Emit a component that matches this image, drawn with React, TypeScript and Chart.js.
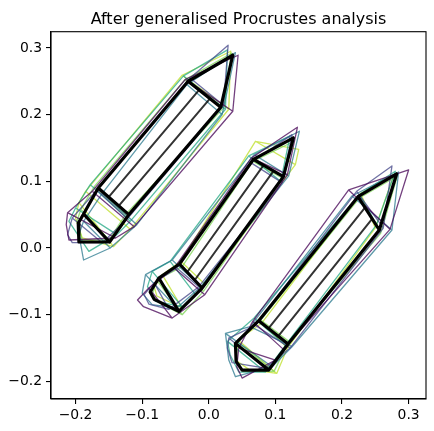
import React, { useEffect, useRef } from "react";
import { Chart, registerables } from "chart.js";

Chart.register(...registerables);

// Landmark order per pencil: tip, shoulder L, shoulder R, ferrule L, ferrule R, eraser L, eraser C1, eraser C2, eraser R
const MEAN_P1 = [[0.036, 0.289], [-0.031, 0.250], [0.018, 0.211], [-0.166, 0.090], [-0.120, 0.050], [-0.188, 0.051], [-0.196, 0.037], [-0.195, 0.009], [-0.149, 0.009]];
const MEAN_P2 = [[0.127, 0.165], [0.067, 0.133], [0.112, 0.107], [-0.044, -0.024], [-0.010, -0.060], [-0.075, -0.045], [-0.088, -0.066], [-0.082, -0.077], [-0.045, -0.095]];
const MEAN_P3 = [[0.282, 0.111], [0.224, 0.077], [0.256, 0.027], [0.075, -0.109], [0.119, -0.144], [0.040, -0.143], [0.041, -0.170], [0.050, -0.183], [0.090, -0.183]];

// inner facet lines of the mean shape
const MEAN_INNER = [
  [[-0.0145, 0.2371], [-0.1504, 0.0764]], [[0.0017, 0.2239], [-0.1352, 0.0633]],
  [[0.0823, 0.1243], [-0.0323, -0.0360]], [[0.0973, 0.1156], [-0.0210, -0.0480]],
  [[0.2345, 0.0605], [0.0894, -0.1209]], [[0.2452, 0.0437], [0.1040, -0.1324]],
];

const SHAPE_0 = [
  [[0.044, 0.289], [-0.035, 0.253], [0.036, 0.205], [-0.175, 0.085], [-0.112, 0.032], [-0.212, 0.053], [-0.214, 0.035], [-0.210, 0.012], [-0.140, 0.015]],
  [[0.133, 0.181], [0.064, 0.135], [0.118, 0.110], [-0.052, -0.030], [-0.006, -0.070], [-0.090, -0.060], [-0.107, -0.078], [-0.098, -0.088], [-0.055, -0.105]],
  [[0.300, 0.117], [0.210, 0.087], [0.272, 0.028], [0.066, -0.110], [0.112, -0.152], [0.045, -0.150], [0.042, -0.178], [0.050, -0.195], [0.100, -0.168]],
];
const SHAPE_1 = [
  [[0.029, 0.304], [-0.028, 0.255], [0.022, 0.214], [-0.168, 0.087], [-0.122, 0.044], [-0.205, 0.045], [-0.212, 0.020], [-0.205, 0.008], [-0.160, 0.008]],
  [[0.125, 0.170], [0.063, 0.128], [0.110, 0.098], [-0.048, -0.030], [-0.015, -0.058], [-0.082, -0.052], [-0.097, -0.070], [-0.090, -0.084], [-0.060, -0.092]],
  [[0.275, 0.123], [0.222, 0.085], [0.262, 0.030], [0.070, -0.116], [0.122, -0.150], [0.030, -0.135], [0.028, -0.150], [0.035, -0.172], [0.085, -0.180]],
];
const SHAPE_2 = [
  [[0.040, 0.293], [-0.033, 0.245], [0.020, 0.200], [-0.160, 0.082], [-0.108, 0.035], [-0.188, 0.040], [-0.195, 0.020], [-0.188, -0.018], [-0.148, 0.000]],
  [[0.136, 0.175], [0.068, 0.140], [0.120, 0.108], [-0.055, -0.018], [-0.012, -0.058], [-0.095, -0.040], [-0.100, -0.068], [-0.085, -0.085], [-0.048, -0.090]],
  [[0.285, 0.114], [0.215, 0.078], [0.275, 0.027], [0.062, -0.118], [0.125, -0.148], [0.025, -0.128], [0.030, -0.168], [0.040, -0.193], [0.095, -0.178]],
];
const SHAPE_3 = [
  [[0.028, 0.297], [-0.038, 0.258], [0.025, 0.208], [-0.178, 0.095], [-0.118, 0.040], [-0.200, 0.060], [-0.210, 0.040], [-0.180, -0.005], [-0.138, 0.020]],
  [[0.122, 0.168], [0.060, 0.138], [0.108, 0.100], [-0.058, -0.020], [-0.020, -0.070], [-0.085, -0.035], [-0.092, -0.058], [-0.080, -0.080], [-0.040, -0.088]],
  [[0.280, 0.115], [0.226, 0.080], [0.252, 0.035], [0.068, -0.105], [0.115, -0.146], [0.028, -0.140], [0.032, -0.160], [0.045, -0.186], [0.085, -0.186]],
];
const SHAPE_4 = [
  [[0.034, 0.292], [-0.036, 0.252], [0.022, 0.210], [-0.172, 0.092], [-0.125, 0.050], [-0.192, 0.058], [-0.198, 0.040], [-0.190, 0.012], [-0.150, 0.012]],
  [[0.128, 0.160], [0.066, 0.130], [0.110, 0.105], [-0.040, -0.028], [-0.008, -0.065], [-0.078, -0.048], [-0.085, -0.070], [-0.075, -0.082], [-0.040, -0.100]],
  [[0.283, 0.108], [0.226, 0.075], [0.258, 0.022], [0.078, -0.108], [0.120, -0.140], [0.042, -0.140], [0.042, -0.172], [0.052, -0.185], [0.098, -0.185]],
];
const SHAPE_5 = [
  [[0.033, 0.295], [-0.040, 0.259], [0.030, 0.208], [-0.185, 0.085], [-0.118, 0.028], [-0.195, 0.068], [-0.200, 0.045], [-0.190, 0.015], [-0.143, 0.002]],
  [[0.135, 0.148], [0.070, 0.160], [0.130, 0.125], [-0.042, -0.020], [-0.005, -0.055], [-0.070, -0.040], [-0.082, -0.058], [-0.078, -0.072], [-0.040, -0.090]],
  [[0.278, 0.110], [0.228, 0.082], [0.250, 0.030], [0.080, -0.112], [0.118, -0.150], [0.044, -0.138], [0.040, -0.168], [0.060, -0.182], [0.102, -0.188]],
];

const SHAPES = [SHAPE_0, SHAPE_1, SHAPE_2, SHAPE_3, SHAPE_4, SHAPE_5];
const SHAPE_COLORS = ["#440154", "#414487", "#2a788e", "#22a884", "#7ad151", "#bddf26"];

const X_TICKS = [-0.2, -0.1, 0.0, 0.1, 0.2, 0.3];
const Y_TICKS = [-0.2, -0.1, 0.0, 0.1, 0.2, 0.3];
const X_RANGE = [-0.2369, 0.3261];
const Y_RANGE = [-0.2264, 0.3243];
const TITLE = "After generalised Procrustes analysis";

// drawing structure (landmark index order)
const OUTLINE = [0, 1, 3, 5, 6, 7, 8, 4, 2, 0];
const CROSS = [[1, 2], [3, 4], [5, 8]];

type Pt = { x: number; y: number | null };

function pencilPath(lm: number[][]): Pt[] {
  const out: Pt[] = [];
  OUTLINE.forEach((i) => out.push({ x: lm[i][0], y: lm[i][1] }));
  CROSS.forEach(([a, b]) => {
    out.push({ x: lm[a][0], y: null });
    out.push({ x: lm[a][0], y: lm[a][1] });
    out.push({ x: lm[b][0], y: lm[b][1] });
  });
  return out;
}

function shapePath(pencils: number[][][]): Pt[] {
  const out: Pt[] = [];
  pencils.forEach((p, k) => {
    if (k > 0) out.push({ x: p[0][0], y: null });
    out.push(...pencilPath(p));
  });
  return out;
}

function innerPath(lines: number[][][]): Pt[] {
  const out: Pt[] = [];
  lines.forEach((l, k) => {
    if (k > 0) out.push({ x: l[0][0], y: null });
    out.push({ x: l[0][0], y: l[0][1] });
    out.push({ x: l[1][0], y: l[1][1] });
  });
  return out;
}

function hexA(hex: string, a: number) {
  const r = parseInt(hex.slice(1, 3), 16), g = parseInt(hex.slice(3, 5), 16), b = parseInt(hex.slice(5, 7), 16);
  return `rgba(${r},${g},${b},${a})`;
}

const fmt = (v: number) => (v < -1e-9 ? "\u2212" : "") + Math.abs(v).toFixed(1);

export default function App() {
  const ref = useRef<HTMLCanvasElement | null>(null);
  useEffect(() => {
    document.body.style.margin = "0";
    const ctx = ref.current!.getContext("2d")!;
    const common = { showLine: true, pointRadius: 0, fill: false, tension: 0, spanGaps: false, borderJoinStyle: "round" as const, borderCapStyle: "round" as const };
    const datasets: any[] = [
      { ...common, data: shapePath([MEAN_P1, MEAN_P2, MEAN_P3]), borderColor: "#000", borderWidth: 3.2, order: 0 },
      { ...common, data: innerPath(MEAN_INNER), borderColor: "rgba(0,0,0,0.8)", borderWidth: 2, order: 1 },
      ...SHAPES.map((s, i) => ({ ...common, data: shapePath(s), borderColor: hexA(SHAPE_COLORS[i], 0.75), borderWidth: 1.3, order: 2 + i })),
    ];
    const frame = {
      id: "frame",
      afterDatasetsDraw(chart: any) {
        const { left, right, top, bottom } = chart.chartArea;
        const c = chart.ctx;
        c.save();
        c.strokeStyle = "#000";
        c.lineWidth = 1.1;
        c.strokeRect(left, top, right - left, bottom - top);
        c.restore();
      },
      afterDraw(chart: any) {
        const { left, right } = chart.chartArea;
        const c = chart.ctx;
        c.save();
        c.fillStyle = "#000";
        c.font = "16px 'DejaVu Sans'";
        c.textAlign = "center";
        c.textBaseline = "alphabetic";
        c.fillText(TITLE, (left + right) / 2, 23.5);
        c.restore();
      },
    };
    const tickFont = { family: "DejaVu Sans", size: 13.9 };
    const chart = new Chart(ctx, {
      type: "scatter",
      data: { datasets },
      options: {
        animation: false,
        responsive: false,
        layout: { padding: { left: 0, right: 8, top: 31.7, bottom: 0 } },
        plugins: {
          legend: { display: false },
          tooltip: { enabled: false },
          title: { display: false },
        },
        scales: {
          x: {
            type: "linear",
            min: X_RANGE[0],
            max: X_RANGE[1],
            afterBuildTicks: (s: any) => { s.ticks = X_TICKS.map((v) => ({ value: v })); },
            afterFit: (s: any) => { s.height = 32; },
            ticks: { color: "#000", font: tickFont, padding: 3, maxRotation: 0, callback: (v: any) => fmt(Number(v)) },
            grid: { drawOnChartArea: false, drawTicks: true, tickLength: 5, color: "#000", lineWidth: 1.1 },
            border: { display: true, color: "#000", width: 1.1 },
          },
          y: {
            type: "linear",
            min: Y_RANGE[0],
            max: Y_RANGE[1],
            afterBuildTicks: (s: any) => { s.ticks = Y_TICKS.map((v) => ({ value: v })); },
            afterFit: (s: any) => { s.width = 51; },
            ticks: { color: "#000", font: tickFont, padding: 4, callback: (v: any) => fmt(Number(v)) },
            grid: { drawOnChartArea: false, drawTicks: true, tickLength: 5, color: "#000", lineWidth: 1.1 },
            border: { display: true, color: "#000", width: 1.1 },
          },
        },
      },
      plugins: [frame],
    } as any);
    return () => chart.destroy();
  }, []);
  return (
    <div style={{ position: "fixed", left: 0, top: 0, width: 434, height: 431, background: "#fff" }}>
      <canvas ref={ref} width={434} height={431} style={{ display: "block", width: 434, height: 431 }} />
    </div>
  );
}
